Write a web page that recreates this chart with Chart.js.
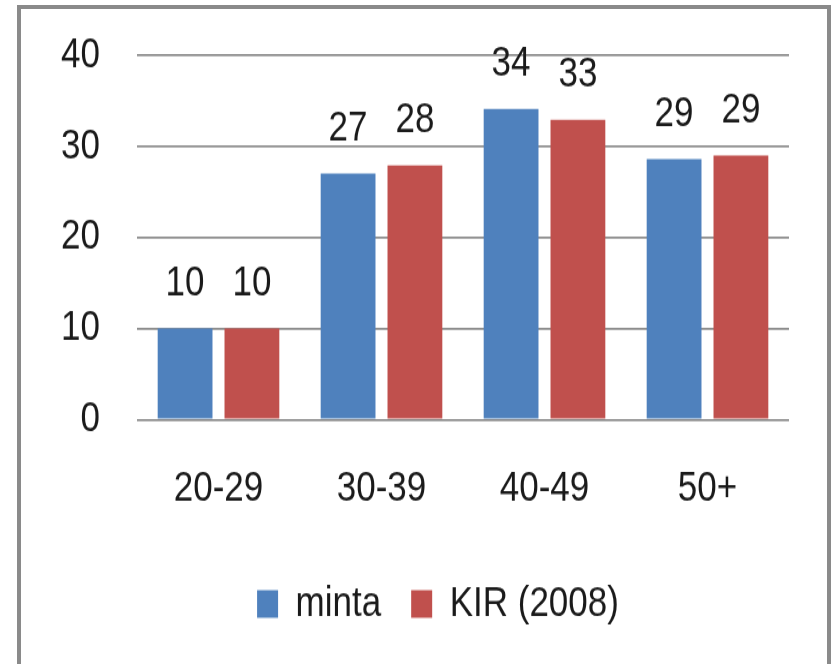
<!DOCTYPE html>
<html>
<head>
<meta charset="utf-8">
<script src="https://cdn.jsdelivr.net/npm/chart.js@4.4.1/dist/chart.umd.min.js"></script>
<style>
  html, body { margin: 0; padding: 0; background: #ffffff; overflow: hidden; }
  #frame { position: absolute; left: 17px; top: 5px; width: 814px; height: 700px;
           box-sizing: border-box; border: 4px solid #8a8a8a; border-bottom: none; }
  #c { position: absolute; left: 0; top: 0; width: 835px; height: 664px; }
</style>
</head>
<body>
<div id="frame"></div>
<canvas id="c" width="835" height="553" style="width:835px;height:664px"></canvas>
<script>
const categories = ['20-29', '30-39', '40-49', '50+'];
const seriesNames = ['minta', 'KIR (2008)'];
const mintaValues = [10, 27, 34.1, 28.6];
const kirValues = [10, 27.9, 32.9, 29];
const yTicks = [0, 10, 20, 30, 40];

const FONT = "'Liberation Sans', Arial, sans-serif";
const FS = 35;
Chart.defaults.font.family = FONT;
Chart.defaults.color = '#1a1a1a';

const valueLabels = {
  id: 'valueLabels',
  afterDatasetsDraw(chart) {
    const ctx = chart.ctx;
    ctx.save();
    ctx.font = FS + 'px ' + FONT;
    ctx.fillStyle = '#1a1a1a';
    ctx.textAlign = 'center';
    ctx.textBaseline = 'middle';
    chart.data.datasets.forEach((ds, i) => {
      chart.getDatasetMeta(i).data.forEach((bar, j) => {
        ctx.fillText(String(Math.round(ds.data[j])), bar.x, bar.y - 37.5);
      });
    });
    ctx.restore();
  }
};

new Chart(document.getElementById('c'), {
  type: 'bar',
  data: {
    labels: categories,
    datasets: [
      { label: seriesNames[0], data: mintaValues, backgroundColor: '#4f81bd' },
      { label: seriesNames[1], data: kirValues, backgroundColor: '#c0504d' }
    ]
  },
  options: {
    responsive: false,
    devicePixelRatio: 1,
    animation: false,
    categoryPercentage: 0.82,
    barPercentage: 0.82,
    layout: { padding: { left: 87, right: 46, top: 46, bottom: 22.5 } },
    plugins: {
      tooltip: { enabled: false },
      legend: {
        position: 'bottom',
        labels: { font: { size: FS }, boxWidth: 21, boxHeight: 23, padding: 30, color: '#1a1a1a' }
      }
    },
    scales: {
      x: {
        grid: { display: false, drawTicks: false },
        border: { display: false },
        ticks: { font: { size: FS }, padding: 37, color: '#1a1a1a' },
        afterFit(scale) { scale.height = 106.1; }
      },
      y: {
        min: 0, max: 40,
        grid: { color: '#8c8c8c', lineWidth: 1.7, drawTicks: false },
        border: { display: false },
        afterBuildTicks(scale) { scale.ticks = yTicks.map(v => ({ value: v })); },
        ticks: { font: { size: FS }, padding: 37, color: '#1a1a1a' },
        afterFit(scale) {
          scale.width = 50;
          scale.paddingTop = 0;
          scale.paddingBottom = 0;
          scale._computeLabelArea = () => undefined;
        }
      }
    }
  },
  plugins: [valueLabels]
});
</script>
</body>
</html>
